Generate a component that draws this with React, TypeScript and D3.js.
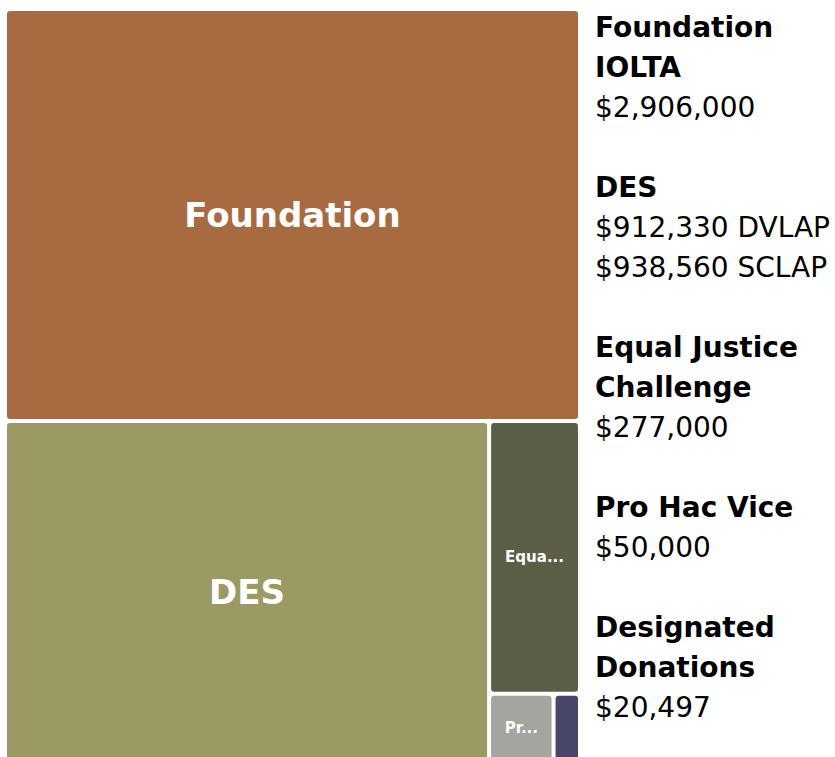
import React, { useEffect, useRef } from "react";
import * as d3 from "d3";

// Treemap tiles (sizes estimated from the picture's areas)
const tileNames = ["Foundation", "DES", "Equal Justice Challenge", "Pro Hac Vice", "Designated Donations"];
const tileValues = [2650000, 1850890, 277000, 50000, 20497];
const tileColors = ["#A86B41", "#9B9A64", "#5C5F47", "#A3A59F", "#48466B"];

// Legend text
const legendTitles = [["Foundation", "IOLTA"], ["DES"], ["Equal Justice", "Challenge"], ["Pro Hac Vice"], ["Designated", "Donations"]];
const legendAmounts = [["$2,906,000"], ["$912,330 DVLAP", "$938,560 SCLAP"], ["$277,000"], ["$50,000"], ["$20,497"]];

const W = 835;
const H = 757;
const FONT = "'DejaVu Sans', sans-serif";

export default function App() {
  const ref = useRef<SVGSVGElement | null>(null);

  useEffect(() => {
    const svg = d3.select(ref.current);
    svg.selectAll("*").remove();

    const data = { name: "root", children: tileNames.map((n, i) => ({ name: n, value: tileValues[i], color: tileColors[i] })) };
    const root = d3.hierarchy<any>(data).sum((d: any) => d.value || 0);
    d3.treemap<any>().tile(d3.treemapBinary).size([571, 750]).paddingInner(4)(root);

    const g = svg.append("g").attr("transform", "translate(7,11)");
    const canvas = document.createElement("canvas");
    const ctx = canvas.getContext("2d")!;

    const leaves = root.leaves() as any[];
    leaves.forEach((leaf) => {
      const w = leaf.x1 - leaf.x0;
      const h = leaf.y1 - leaf.y0;
      g.append("rect")
        .attr("x", leaf.x0).attr("y", leaf.y0)
        .attr("width", w).attr("height", h)
        .attr("rx", 3).attr("ry", 3)
        .attr("fill", leaf.data.color);
      const big = w > 200;
      const fs = big ? 34 : 15;
      ctx.font = `bold ${fs}px 'DejaVu Sans'`;
      let label = leaf.data.name;
      const maxW = w * 0.7;
      if (ctx.measureText(label).width > maxW) {
        let n = label.length;
        while (n > 0 && ctx.measureText(label.slice(0, n).trimEnd() + "...").width > maxW) n--;
        label = n > 0 ? label.slice(0, n).trimEnd() + "..." : "";
      }
      if (label) {
        g.append("text")
          .attr("x", (leaf.x0 + leaf.x1) / 2)
          .attr("y", (leaf.y0 + leaf.y1) / 2)
          .attr("text-anchor", "middle")
          .attr("dominant-baseline", "central")
          .attr("fill", "#ffffff")
          .attr("font-family", FONT)
          .attr("font-weight", "bold")
          .attr("font-size", fs)
          .text(label);
      }
    });

    // Legend
    const lg = svg.append("g").attr("transform", "translate(595,0)");
    let line = 0;
    legendTitles.forEach((titles, i) => {
      titles.forEach((t) => {
        lg.append("text").attr("x", 0).attr("y", 37 + 40 * line)
          .attr("font-family", FONT).attr("font-weight", "bold").attr("font-size", 28)
          .attr("fill", "#000").text(t);
        line++;
      });
      legendAmounts[i].forEach((t) => {
        lg.append("text").attr("x", 0).attr("y", 37 + 40 * line)
          .attr("font-family", FONT).attr("font-size", 28)
          .attr("fill", "#000").text(t);
        line++;
      });
      line++;
    });
  }, []);

  return (
    <svg
      ref={ref}
      width={W}
      height={H}
      style={{ position: "absolute", left: 0, top: 0, background: "#fff" }}
    />
  );
}
